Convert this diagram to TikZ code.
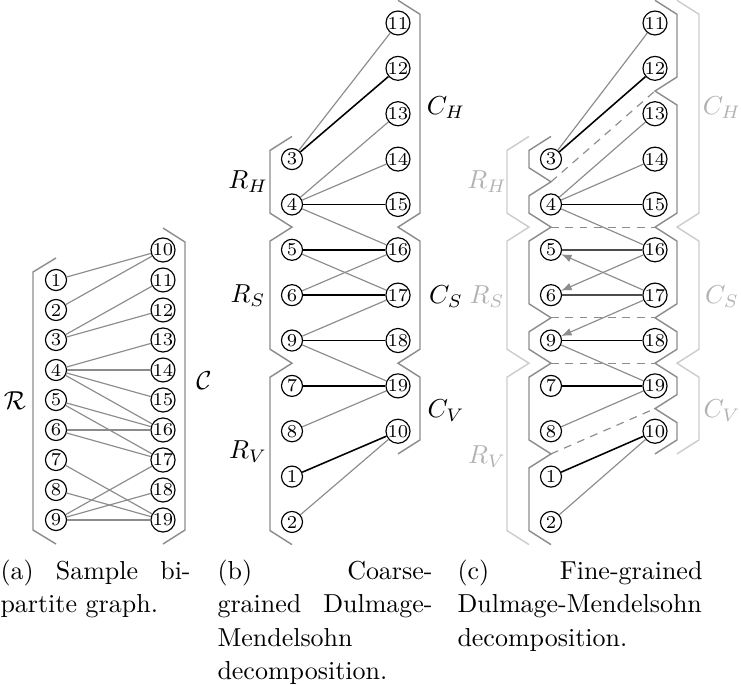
\documentclass[tikz,border=0pt]{standalone}
\usetikzlibrary{arrows.meta}
\begin{document}
\begin{tikzpicture}[x=0.385pt,y=-0.385pt,
  vtx/.style={circle,draw,line width=0.45pt,minimum size=8.1pt,inner sep=0pt,font=\fontsize{7}{8}\selectfont},
  gedge/.style={draw=black!45,line width=0.45pt},
  medge/.style={draw=black,line width=0.6pt},
  dmedge/.style={draw=black!70,line width=0.6pt},
  aedge/.style={draw=black!45,line width=0.45pt,-{Latex[length=4pt,width=3pt]}},
  brk/.style={draw=black!45,line width=0.55pt},
  obrk/.style={draw=black!20,line width=0.55pt},
  dsh/.style={draw=black!45,line width=0.45pt,dash pattern=on 3pt off 2.5pt},
  olab/.style={text=black!30},
  captxt/.style={anchor=base west,inner sep=0pt}]
\useasboundingbox (0,0) rectangle (741,685);

% ---------------- panel (a)
\node[vtx] (a10) at (163,250) {10};
\foreach \i in {1,...,9}{
  \pgfmathtruncatemacro{\j}{\i+10}
  \node[vtx] (a\i) at (56,{250+30*\i}) {\i};
  \node[vtx] (a\j) at (163,{250+30*\i}) {\j};
}
\foreach \u/\v in {1/10,2/10,3/11,3/12,4/13,4/14,4/15,4/16,5/16,5/17,6/16,6/17,7/19,8/19,9/17,9/18,9/19}
  \draw[gedge] (a\u) -- (a\v);
\draw[brk] (56,258) -- (33,272) -- (33,530) -- (56,544);
\draw[brk] (163,228) -- (185,242) -- (185,530) -- (163,544);
\node (lR) at (15,401) {$\mathcal{R}$};
\node (lC) at (204,381) {$\mathcal{C}$};

% ---------------- panel (b)
\foreach \n/\k in {3/3,4/4,5/5,6/6,9/7,7/8,8/9,1/10,2/11}
  \node[vtx] (b\n) at (292,{23+45.36*\k}) {\n};
\foreach \n/\k in {11/0,12/1,13/2,14/3,15/4,16/5,17/6,18/7,19/8,10/9}
  \node[vtx] (b\n) at (398,{23+45.36*\k}) {\n};
\foreach \u/\v in {3/11,4/13,4/14,4/16,5/17,6/16,9/17,9/19,8/19,2/10}
  \draw[gedge] (b\u) -- (b\v);
\foreach \u/\v in {3/12,4/15,5/16,6/17,9/18,7/19,1/10}
  \draw[medge] (b\u) -- (b\v);
\draw[brk] (292,136.4) -- (270,150.4) -- (270,213.1) -- (292,227.1) -- (270,241.1) -- (270,349.2)
  -- (292,363.2) -- (270,377.2) -- (270,530.6) -- (292,544.6);
\draw[brk] (398,0.3) -- (420,14.3) -- (420,213.1) -- (398,227.1) -- (420,241.1) -- (420,349.2)
  -- (398,363.2) -- (420,377.2) -- (420,439.9) -- (398,453.9);
\node (bRH) at (248,182) {$R_H$};
\node (bRS) at (248,296) {$R_S$};
\node (bRV) at (248,452) {$R_V$};
\node (bCH) at (446,108) {$C_H$};
\node (bCS) at (446,297) {$C_S$};
\node (bCV) at (446,411) {$C_V$};

% ---------------- panel (c)
\foreach \n/\k in {3/3,4/4,5/5,6/6,9/7,7/8,8/9,1/10,2/11}
  \node[vtx] (c\n) at (551,{23+45.36*\k}) {\n};
\foreach \n/\k in {11/0,12/1,13/2,14/3,15/4,16/5,17/6,18/7,19/8,10/9}
  \node[vtx] (c\n) at (655,{23+45.36*\k}) {\n};
\foreach \u/\v in {3/11,4/13,4/14,4/16,9/19,8/19,2/10}
  \draw[gedge] (c\u) -- (c\v);
\foreach \u/\v in {16/6,17/5,17/9}
  \draw[aedge] (c\u) -- (c\v);
\foreach \u/\v in {5/16,6/17}
  \draw[dmedge] (c\u) -- (c\v);
\foreach \u/\v in {3/12,4/15,9/18,7/19,1/10}
  \draw[medge] (c\u) -- (c\v);
% outer brackets
\draw[obrk] (529,136.4) -- (507,150.4) -- (507,213.1) -- (529,227.1) -- (507,241.1) -- (507,349.2)
  -- (529,363.2) -- (507,377.2) -- (507,530.6) -- (529,544.6);
\draw[obrk] (677,0.3) -- (699,14.3) -- (699,213.1) -- (677,227.1) -- (699,241.1) -- (699,349.2)
  -- (677,363.2) -- (699,377.2) -- (699,439.9) -- (677,453.9);
% inner brackets
\draw[brk] (551,136.4) -- (529,150.4) -- (529,167.8) -- (551,181.8) -- (529,195.8) -- (529,213.1)
  -- (551,227.1) -- (529,241.1) -- (529,303.8) -- (551,317.8) -- (529,331.8) -- (529,349.2)
  -- (551,363.2) -- (529,377.2) -- (529,439.9) -- (551,453.9) -- (529,467.9) -- (529,530.6) -- (551,544.6);
\draw[brk] (655,0.3) -- (677,14.3) -- (677,77) -- (655,91) -- (677,105) -- (677,213.1)
  -- (655,227.1) -- (677,241.1) -- (677,303.8) -- (655,317.8) -- (677,331.8) -- (677,349.2)
  -- (655,363.2) -- (677,377.2) -- (677,394.6) -- (655,408.6) -- (677,422.6) -- (677,439.9) -- (655,453.9);
% tips for dashed separators
\coordinate (tl3) at (551,181.8);
\coordinate (tl4) at (551,227.1);
\coordinate (tl6) at (551,317.8);
\coordinate (tl7) at (551,363.2);
\coordinate (tl9) at (551,453.9);
\coordinate (tr1) at (655,91);
\coordinate (tr4) at (655,227.1);
\coordinate (tr6) at (655,317.8);
\coordinate (tr7) at (655,363.2);
\coordinate (tr8) at (655,408.6);
\draw[dsh] (tl3) -- (tr1);
\draw[dsh] (tl4) -- (tr4);
\draw[dsh] (tl6) -- (tr6);
\draw[dsh] (tl7) -- (tr7);
\draw[dsh] (tl9) -- (tr8);
\node[olab] (cRH) at (487,182) {$R_H$};
\node[olab] (cRS) at (487,297) {$R_S$};
\node[olab] (cRV) at (487,457) {$R_V$};
\node[olab] (cCH) at (722,108) {$C_H$};
\node[olab] (cCS) at (722,297) {$C_S$};
\node[olab] (cCV) at (722,411) {$C_V$};

% ---------------- captions
\node[captxt] (capa) at (0,579) {\parbox[t]{73.2pt}{\fontsize{10}{12.9}\selectfont
  \makebox[73.2pt][s]{(a) Sample bi-}\\partite graph.}};
\node[captxt] (capb) at (217,579) {\parbox[t]{82.8pt}{\fontsize{10}{12.9}\selectfont
  \makebox[82.8pt][s]{(b) Coarse-}\\\makebox[82.8pt][s]{grained Dulmage-}\\Mendelsohn\\decomposition.}};
\node[captxt] (capc) at (457,579) {\parbox[t]{94.3pt}{\fontsize{10}{12.9}\selectfont
  \makebox[94.3pt][s]{(c) Fine-grained}\\\mbox{Dulmage-Mendelsohn}\\decomposition.}};
\end{tikzpicture}
\end{document}
